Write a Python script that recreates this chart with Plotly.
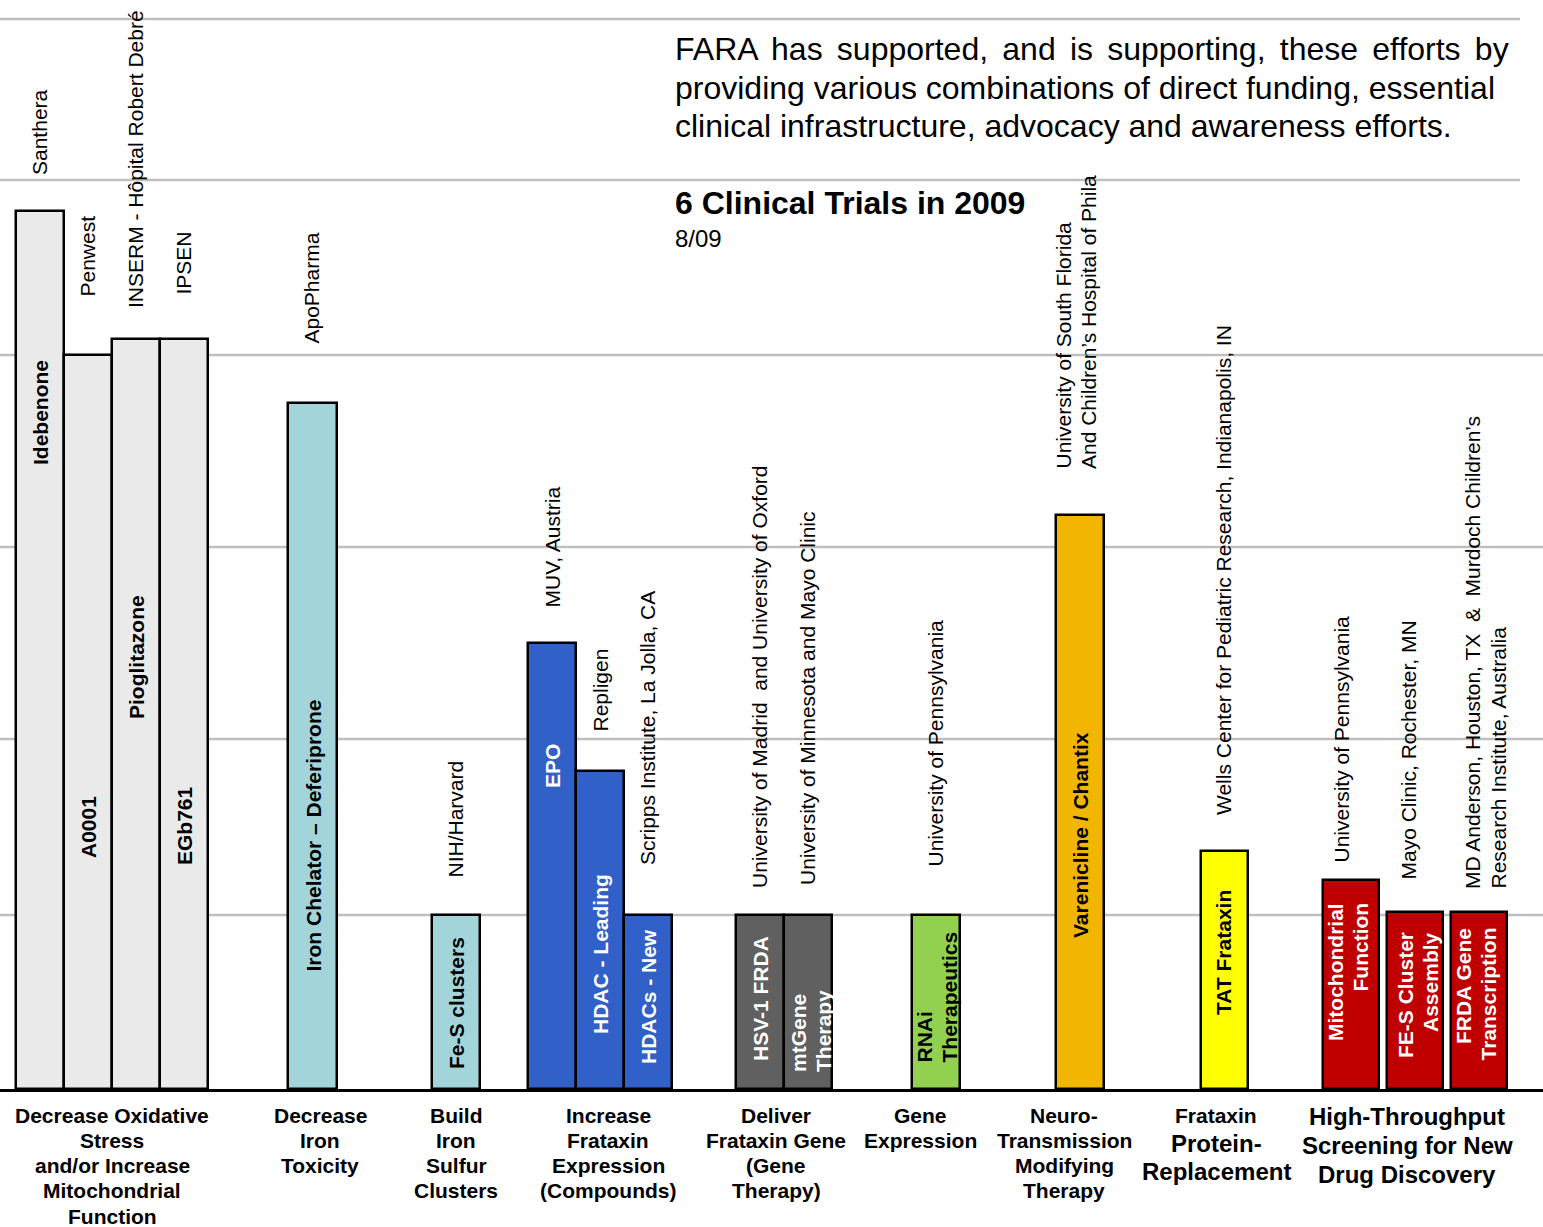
import plotly.graph_objects as go

# ---------------- data ----------------
treatments = [
    "Idebenone", "A0001", "Pioglitazone", "EGb761",
    "Iron Chelator – Deferiprone", "Fe-S clusters",
    "EPO", "HDAC - Leading", "HDACs - New",
    "HSV-1 FRDA", "mtGene<br>Therapy",
    "RNAi<br>Therapeutics", "Varenicline / Chantix", "TAT Frataxin",
    "Mitochondrial<br>Function", "FE-S Cluster<br>Assembly", "FRDA Gene<br>Transcription",
]
organisations = [
    "Santhera", "Penwest", "INSERM - Hôpital Robert Debré", "IPSEN",
    "ApoPharma", "NIH/Harvard",
    "MUV, Austria", "Repligen", "Scripps Institute, La Jolla, CA",
    "University of Madrid\u00a0 and University of Oxford",
    "University of Minnesota and Mayo Clinic",
    "University of Pennsylvania",
    "University of South Florida<br>And Children’s Hospital of Phila",
    "Wells Center for Pediatric Research, Indianapolis, IN",
    "University of Pennsylvania",
    "Mayo Clinic, Rochester, MN",
    "MD Anderson, Houston, TX\u00a0 &\u00a0 Murdoch Children’s<br>Research Institute, Australia",
]
# progress of each programme (height above baseline, chart units)
progress = [878, 734, 750, 750, 686, 174, 446, 318, 174, 174, 174, 174, 574, 238, 209, 177, 177]
# approach (category) index of each programme
approach = [0, 0, 0, 0, 1, 2, 3, 3, 3, 4, 4, 5, 6, 7, 8, 8, 8]
categories = [
    "Decrease Oxidative<br>Stress<br>and/or Increase<br>Mitochondrial<br>Function",
    "Decrease<br>Iron<br>Toxicity",
    "Build<br>Iron<br>Sulfur<br>Clusters",
    "Increase<br>Frataxin<br>Expression<br>(Compounds)",
    "Deliver<br>Frataxin Gene<br>(Gene<br>Therapy)",
    "Gene<br>Expression",
    "Neuro-<br>Transmission<br>Modifying<br>Therapy",
    "Frataxin<br>Protein-<br>Replacement",
    "High-Throughput<br>Screening for New<br>Drug Discovery",
]
stage_levels = [174, 350, 542, 734, 909, 1070]
intro_lines = [
    "FARA has supported, and is supporting, these efforts by",
    "providing various combinations of direct funding, essential",
    "clinical infrastructure, advocacy and awareness efforts.",
]
headline = "6 Clinical Trials in 2009"
date_label = "8/09"

# ---------------- layout / style ----------------
W, H = 1543, 1227
BASE = 1089  # baseline pixel row
FONT = "Liberation Sans, Arial, Helvetica, sans-serif"

bar_x = [40, 88, 136, 184, 312.5, 456, 552, 600, 648, 760, 808, 936, 1080, 1224.5, 1351, 1415, 1479]
bar_w = [48, 48, 48, 48, 49, 48, 48, 48, 48, 48, 48, 48, 48, 47, 56, 56, 56]

group_fill = ["#EAEAEA", "#A2D4D9", "#A2D4D9", "#3060C8", "#606060",
              "#92D050", "#F2B600", "#FFFF00", "#C00000"]
group_text = ["black", "black", "black", "white", "white",
              "black", "black", "black", "white"]

# inside label placement: (anchor, pixel row, x-centre of text block)
inside_pos = [
    ("middle", 413, 40), ("middle", 827, 88), ("middle", 657, 136), ("middle", 826, 184),
    ("middle", 836, 312.5), ("middle", 1003, 456),
    ("middle", 766, 552), ("middle", 954, 600), ("middle", 997, 648),
    ("middle", 999, 760), ("bottom", 1072, 810.5),
    ("bottom", 1063, 936.5), ("middle", 835, 1080), ("middle", 953, 1223),
    ("top", 903, 1347.5), ("top", 932, 1417.5), ("top", 928, 1475.5),
]
# organisation label placement: (x-centre of block, bottom pixel row)
org_pos = [
    (39, 175), (87, 297), (135, 308), (183, 295),
    (311, 344), (455, 878),
    (552, 608), (600, 732), (647, 865),
    (759, 888), (807, 885),
    (935, 867), (1075.5, 469), (1223, 815),
    (1341, 863), (1408, 880), (1485, 889),
]
cat_x = [112, 320, 456, 608, 776, 920, 1064, 1216, 1407]
cat_line_px = {7: [(1115, 21), (1143, 24), (1171, 24)],
               8: [(1116, 24), (1145, 24), (1174, 24)]}

def yd(px):
    return BASE - px

def yp(px):
    return (BASE - px) / BASE

fig = go.Figure()
fig.add_trace(go.Bar(
    x=bar_x, y=progress, width=bar_w,
    marker=dict(color=[group_fill[a] for a in approach],
                line=dict(color="black", width=2.5)),
    hoverinfo="skip", showlegend=False,
))

ann = []

def rot_lines(text, xc, ypx, anchor, size, color, bold):
    lines = text.split("<br>")
    n = len(lines)
    for i, ln in enumerate(lines):
        ann.append(dict(
            x=xc + (i - (n - 1) / 2) * 25, y=yd(ypx), xref="x", yref="y",
            text=ln, showarrow=False, textangle=-90,
            xanchor="center", yanchor=anchor,
            borderpad=0, borderwidth=0,
            font=dict(family=FONT, size=size, color=color,
                      weight="bold" if bold else "normal"),
        ))

for i, t in enumerate(treatments):
    anc, ypx, xc = inside_pos[i]
    rot_lines(t, xc, ypx, anc, 21, group_text[approach[i]], True)

for i, o in enumerate(organisations):
    xc, ypx = org_pos[i]
    rot_lines(o, xc, ypx, "bottom", 21, "black", False)

for ci, c in enumerate(categories):
    lines = c.split("<br>")
    spec = cat_line_px.get(ci, [(1115 + 25.3 * k, 21) for k in range(len(lines))])
    for ln, (ypx, sz) in zip(lines, spec):
        ann.append(dict(
            x=cat_x[ci], y=yp(ypx), xref="x", yref="paper", text=ln, showarrow=False,
            xanchor="center", yanchor="middle", borderpad=0, borderwidth=0,
            font=dict(family=FONT, size=sz, color="black", weight="bold"),
        ))

for k, ln in enumerate(intro_lines):
    if k == 0:
        # approximate the justified first line with slightly wider word gaps
        ln = ln.replace(" ", " \u2006")
    ann.append(dict(
        x=675, y=yd(49 + 38.5 * k), xref="x", yref="y", text=ln, showarrow=False,
        xanchor="left", yanchor="middle", borderpad=0, borderwidth=0,
        font=dict(family=FONT, size=32, color="black"),
    ))
ann.append(dict(x=675, y=yd(203), xref="x", yref="y", text=headline, showarrow=False,
                xanchor="left", yanchor="middle", borderpad=0, borderwidth=0,
                font=dict(family=FONT, size=32, color="black", weight="bold")))
ann.append(dict(x=675, y=yd(238), xref="x", yref="y", text=date_label, showarrow=False,
                xanchor="left", yanchor="middle", borderpad=0, borderwidth=0,
                font=dict(family=FONT, size=24, color="black")))

shapes = []
for lvl in stage_levels:
    shapes.append(dict(type="line", xref="x", yref="y", layer="below",
                       x0=0, x1=1520 if lvl > 900 else W, y0=lvl, y1=lvl,
                       line=dict(color="#BFBFBF", width=2.5)))

fig.update_layout(
    width=W, height=H,
    margin=dict(l=0, r=0, t=0, b=H - BASE),
    paper_bgcolor="white", plot_bgcolor="white",
    xaxis=dict(range=[0, W], showgrid=False, zeroline=False, showticklabels=False,
               ticks="", showline=True, linecolor="black", linewidth=2.5, fixedrange=True),
    yaxis=dict(range=[0, BASE], showgrid=False, zeroline=False, showticklabels=False,
               ticks="", showline=False, fixedrange=True),
    annotations=ann, shapes=shapes, bargap=0,
)

fig.write_html("out.html", config={"displayModeBar": False},
               post_script="document.body.style.margin='0';document.body.style.overflow='hidden';")
